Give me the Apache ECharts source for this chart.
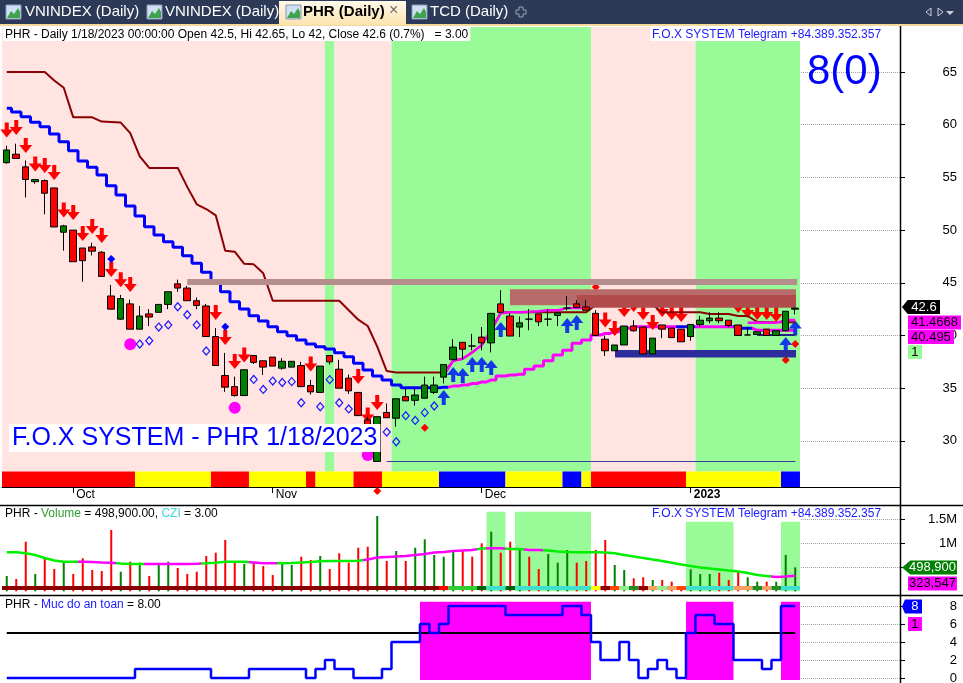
<!DOCTYPE html>
<html><head><meta charset="utf-8">
<script src="https://cdn.jsdelivr.net/npm/echarts@6/dist/echarts.min.js"></script>
<style>html,body{margin:0;padding:0;background:#fff}#c{width:963px;height:683px}</style>
</head><body><div id="c"></div>
<script>
// ---------------- DATA ----------------
const dates = ['9/22','9/23','9/26','9/27','9/28','9/29','9/30',
'10/3','10/4','10/5','10/6','10/7','10/10','10/11','10/12','10/13','10/14','10/17','10/18','10/19','10/20','10/21','10/24','10/25','10/26','10/27','10/28','10/31',
'11/1','11/2','11/3','11/4','11/7','11/8','11/9','11/10','11/11','11/14','11/15','11/16','11/17','11/18','11/21','11/22','11/23','11/24','11/25','11/28','11/29','11/30',
'12/1','12/2','12/5','12/6','12/7','12/8','12/9','12/12','12/13','12/14','12/15','12/16','12/19','12/20','12/21','12/22','12/23','12/26','12/27','12/28','12/29','12/30',
'1/3','1/4','1/5','1/6','1/9','1/10','1/11','1/12','1/13','1/16','1/17','1/18'];
const tickDates = ['10/3','11/1','12/1','1/3'];
const tickLabels = ['Oct','Nov','Dec','2023'];

const open = [56.4,57.2,56.0,54.6,54.7,54.0,49.8,50.0,48.3,48.4,
47.9,43.75,41.55,43.0,40.6,42.05,42.2,42.95,44.9,44.5,
43.3,42.8,39.9,36.2,35.15,34.3,38.1,37.6,37.95,36.9,
37.0,37.15,35.25,34.6,38.1,36.8,35.95,34.6,32.0,28.05,
32.7,32.15,34.2,33.85,34.05,34.6,36.05,37.7,39.35,39.0,
39.85,39.3,43.0,41.85,40.8,41.55,42.05,41.55,41.9,42.6,
43.0,42.7,42.1,39.65,38.55,39.1,40.9,40.8,38.25,41.0,
40.7,40.6,39.9,41.05,41.4,41.65,41.45,41.0,40.05,40.1,
40.6,40.0,40.45,42.5];
const high = [58.0,58.2,56.6,54.8,54.8,54.0,50.5,50.0,48.3,48.8,
48.0,44.8,43.85,43.4,42.8,42.5,42.95,44.15,45.3,44.7,
43.6,43.0,40.7,38.35,36.1,36.75,38.1,37.6,37.95,37.85,
37.55,37.5,35.8,37.1,38.1,37.7,36.3,34.6,32.3,32.3,
33.55,34.0,35.0,35.0,36.1,36.1,37.25,39.65,39.35,40.15,
40.8,42.1,44.3,42.1,41.8,42.5,42.05,42.5,42.15,43.75,
43.35,43.35,42.4,40.0,39.1,40.9,41.45,40.8,39.75,41.0,
40.7,40.6,41.05,41.85,42.2,42.2,41.45,41.0,40.8,40.35,
40.6,40.45,42.3,42.65];
const low = [56.3,56.8,53.1,54.4,51.5,50.3,48.05,47.0,45.1,47.6,
45.6,42.5,41.5,40.6,40.6,40.9,42.2,42.5,44.15,43.3,
42.5,39.9,37.15,34.65,34.2,34.3,37.3,36.25,37.1,36.75,
37.0,35.1,34.4,34.6,37.25,35.0,34.45,32.4,29.8,28.0,
32.2,31.35,33.8,33.35,34.05,34.45,35.45,37.7,37.7,38.6,
38.6,38.4,42.2,39.95,39.85,40.5,40.9,40.9,40.9,42.4,
42.65,42.4,40.0,38.05,38.55,39.1,40.35,38.25,38.25,39.75,
39.8,39.4,39.5,40.85,41.15,41.15,40.8,40.0,40.05,40.1,
40.0,40.0,40.45,42.0];
const close = [57.6,56.8,54.8,54.8,53.5,50.3,50.4,47.0,47.1,48.0,
45.6,42.5,43.5,40.6,41.85,41.75,42.95,44.15,44.5,43.3,
42.85,39.9,37.15,35.1,34.3,36.75,37.45,37.0,37.1,37.55,
37.55,35.15,34.65,37.1,37.5,35.0,34.75,32.4,30.0,32.3,
32.2,34.0,33.8,34.35,35.3,35.3,37.25,38.9,38.7,39.0,
39.3,42.1,42.2,39.95,41.2,41.55,41.3,41.55,42.15,42.6,
42.65,42.4,40.0,38.55,39.1,40.9,40.45,38.25,39.75,40.6,
39.8,39.4,41.05,41.45,41.65,41.4,40.95,40.0,40.05,40.35,
40.0,40.45,42.3,42.6];

// trailing lines on the price pane
const maroonLine = [65.0,65.0,65.0,65.0,65.0,64.2,63.5,60.7,60.7,60.7,
60.3,60.25,60.2,59.2,57.0,55.9,55.9,55.9,55.9,54.1,
52.45,52.0,51.4,48.05,47.95,46.8,46.75,45.9,43.3,43.3,
43.3,43.3,43.3,43.3,43.3,43.3,42.4,41.5,40.9,38.94,
36.63,36.5,36.5,36.5,36.5,36.5,36.5,37.6,37.8,38.4,
39.1,40.5,42.2,42.2,42.2,42.2,42.2,42.2,42.2,42.2,
42.2,42.2,42.9,42.9,42.9,42.9,42.9,42.9,42.9,42.2,
42.2,42.2,42.2,42.2,42.04,42.04,42.04,41.85,41.85,41.3,
41.25,41.25,41.25,41.25];
const stopLine = [61.55,61.2,60.76,60.23,59.81,59.12,58.39,57.53,56.56,55.96,
55.23,54.21,53.33,52.29,51.34,50.32,49.53,48.9,48.37,47.57,
46.85,46.0,45.17,44.16,43.21,42.51,41.88,41.38,40.84,40.36,
39.98,39.57,39.19,38.94,38.72,38.37,37.99,37.36,36.73,36.16,
35.78,35.3,35.05,35.05,35.05,35.05,35.1,35.2,35.3,35.45,
35.6,35.78,36.16,36.25,36.32,36.8,37.1,37.6,38.15,38.6,
39.26,39.57,40.05,40.2,40.36,40.68,40.84,40.84,40.84,40.84,
40.84,40.84,40.84,40.84,40.84,40.84,40.84,40.68,40.68,40.495,
40.495,40.495,40.495,40.495];
const upperMA = [null,null,null,null,null,null,null,null,null,null,
null,null,null,null,null,null,null,null,null,null,
null,null,null,null,null,null,null,null,null,null,
null,null,null,null,null,null,null,null,null,null,
null,null,null,null,null,null,36.2,37.6,37.8,38.4,
39.1,40.5,42.1,42.2,42.2,42.25,42.3,42.4,42.4,42.6,
42.6,42.6,null,null,null,null,null,null,null,null,
null,null,null,null,null,null,null,null,41.2,41.2,
41.2,41.2,41.45,41.4668];
const boxLine = [[79,40.05],[80,40.05],[81,40.05],[82,40.05],[83,40.05]];

// signals
const sellSignals = [[0,59.5],[1,59.73],[2,58.03],[3,56.27],[4,56.13],[5,55.46],[6,51.91],[7,51.67],[8,49.68],[9,50.34],[10,49.49],[11,46.26],[12,45.3],[13,44.84],[22,42.18],[23,39.81],[24,37.53],[25,38.15],[32,37.3],[37,36.11],[38,32.46],[39,33.64],[63,41.47],[64,40.66],[65,42.47],[66,42.94],[67,42.18],[68,41.23],[69,42.47],[70,42.18],[71,41.99],[77,42.85],[78,42.37],[79,42.18],[80,42.18],[81,41.99]];
const buySignals = [[46,34.12],[47,36.3],[48,36.2],[49,37.25],[50,37.25],[51,36.96],[52,40.57],[59,40.95],[60,41.23],[82,39.15],[83,40.71]];
const sarDots = [[14,39.19],[15,39.5],[16,40.8],[17,41.0],[18,42.73],[19,41.97],[20,41.0],[21,38.53],[26,35.83],[27,34.88],[28,35.68],[29,35.54],[30,35.62],[31,33.62],[33,33.24],[34,35.81],[35,33.62],[36,33.03],[40,30.84],[41,29.92],[42,32.39],[43,31.94],[44,32.68],[45,33.31]];
const blueDots = [[11,47.26],[23,40.84]];
const redDots = [[44,31.25],[62,44.6],[82,37.68],[83,39.19]];
const magentaDots = [[13,39.17],[24,33.15],[38,28.66]];
const dateRowMarks = [[39,0.78]];

// zones
const resistanceLevel = {from:19, to:83.2, value:45.08};
const zoneA = {from:52.97, to:83.08, top:44.4, bottom:42.87};
const zoneB = {from:60.03, to:83.08, top:43.84, bottom:42.64};
const supportZone = {from:64.03, to:83.08, top:38.62, bottom:37.91};
const lowestLow = {from:40, to:83, value:28.03};

// background / state strips (one code per bar)
const bgCode    = 'PPPPPPPPPPPPPPPPPPPPPPPPPPPPPPPPPPGPPPPPPGGGGGGGGGGGGGGGGGGGGGPPPPPPPPPPPGGGGGGGGGGG';
const stripCode = 'RRRRRRRRRRRRRRYYYYYYYYRRRRYYYYYYRYYYYRRRYYYYYYBBBBBBBYYYYYYBBYRRRRRRRRRRYYYYYYYYYYBB';

// volume pane
const volume = [319000,256000,1033000,360000,688000,465000,631000,360000,688000,444000,
423000,1277000,408000,617000,596000,319000,569000,617000,485000,360000,
408000,735000,804000,1069000,596000,569000,596000,527000,340000,596000,
548000,721000,652000,735000,465000,792000,596000,908000,929000,1569000,
631000,840000,631000,908000,1083000,756000,721000,860000,840000,721000,
1000000,1242000,804000,1033000,896000,721000,465000,777000,596000,860000,
596000,631000,860000,1069000,548000,444000,271000,292000,235000,235000,
200000,83000,458000,360000,360000,388000,235000,408000,292000,200000,
200000,200000,756000,498900];
const volDir = 'GRRGRRGRRRRRGRGRGGRRRRRRRGRRRGGRRGRRRRRGRGRGGGGGRRRGRRGRRGGGRRRRGGRRGRRRGGGRRRGGRGGG';
const volMA = [812000,812000,792000,756000,694000,642000,617000,617000,617000,610000,
600000,596000,579000,569000,569000,569000,569000,569000,569000,569000,
575000,583000,596000,617000,617000,617000,600000,583000,583000,583000,
590000,600000,610000,625000,631000,631000,631000,638000,662000,704000,
715000,725000,735000,756000,777000,808000,819000,840000,850000,860000,
892000,896000,896000,881000,881000,860000,860000,850000,829000,819000,
812000,812000,812000,808000,792000,756000,725000,694000,662000,631000,
596000,558000,527000,496000,475000,454000,433000,413000,381000,340000,
319000,298000,308000,323547];
const volStripCode = 'DDDDDDDDDDDDDDDDDDDDDDDDDDDDDDDDDDDDDDDDDDDDDDrLLLgTTgTTTTTTTTYDOlGDSlSOTTTTTSSGSGTT';
const volBandHeight = [0,0,0,0,0,0,0,0,0,0, 0,0,0,0,0,0,0,0,0,0, 0,0,0,0,0,0,0,0,0,0,
0,0,0,0,0,0,0,0,0,0, 0,0,0,0,0,0,0,0,0,0, 0,1658000,1658000,0,1658000,1658000,1658000,1658000,1658000,1658000,
1658000,1658000,0,0,0,0,0,0,0,0, 0,0,1450000,1450000,1450000,1450000,1450000,0,0,0, 0,0,1450000,1450000];

// "Muc do an toan" pane
const safety = [0,0,0,0,0,0,0,0,0,0, 0,0,0,0,1,1,1,1,1,1, 1,1,0,0,0,0,1,1,1,1,
1,1,0,1,2,1,1,0,0,0, 1,4,4,4,6,5,6,8,8,8, 8,8,8,7,7,7,7,7,7,8,
8,7,4,2,2,4,2,0,1,2, 1,0,5,7,7,6,6,2,2,2, 1,2,8,8];
const safetyBand = '000000000000000000000000000000000000000000001111111111111111110000000000111110000011';
const safetyThreshold = 5;

const lastValues = {close:'42.6', upper:'41.4668', stop:'40.495', count:'1', vol:'498,900', volMA:'323,547', safety:'8', safetyCount:'1'};

// ---------------- BUILD ----------------
const FONT = '"Liberation Sans", Arial, sans-serif';
const X_MIN = -0.5, X_MAX = 94.03;
const P_MIN = 25.626, P_MAX = 69.27, STRIP_TOP = 27.1;
const V_MAX = 1777083;
const I_MIN = -0.556, I_MAX = 9.0;
const PINK = '#ffe4e1', LGREEN = '#98fb98';
const stripColors = {R:'#ff0000', Y:'#ffff00', B:'#0000ff'};
const volStripColors = {D:'#8b0000', r:'#ff0000', L:'#32cd32', g:'#006400', T:'#40e0d0', Y:'#ffff00', O:'#ff4500', l:'#90ee90', G:'#228b22', S:'#f4a460'};
const N = dates.length;
const idx = dates.map((d,i)=>i);
const tickIdx = tickDates.map(d => dates.indexOf(d));

function runs(arr){ const out=[]; let s=0; for(let i=1;i<=arr.length;i++){ if(i===arr.length || arr[i]!==arr[s]){ out.push({s:s,e:i-1,k:arr[s]}); s=i; } } return out; }

const candleData = idx.map(i => [i, open[i], close[i], low[i], high[i]]);
const pair = arr => idx.map(i => [i, arr[i]]);

const priceBgAreas = runs(bgCode.split('')).map(r => [
  {xAxis:r.s-0.5, yAxis:STRIP_TOP, itemStyle:{color:r.k==='G'?LGREEN:PINK, opacity:1}},
  {xAxis:r.e+0.5, yAxis:P_MAX}]);
const stripAreas = runs(stripCode.split('')).map(r => [
  {xAxis:r.s-0.5, yAxis:P_MIN, itemStyle:{color:stripColors[r.k], opacity:1}},
  {xAxis:r.e+0.5, yAxis:STRIP_TOP}]);
const zoneAreas = [
  [{xAxis:zoneA.from, yAxis:zoneA.top, itemStyle:{color:'#b86b6b', opacity:1}}, {xAxis:zoneA.to, yAxis:zoneA.bottom}],
  [{xAxis:zoneB.from, yAxis:zoneB.top, itemStyle:{color:'#b04c4c', opacity:1}}, {xAxis:zoneB.to, yAxis:zoneB.bottom}],
  [{xAxis:supportZone.from, yAxis:supportZone.top, itemStyle:{color:'#2c2c9c', opacity:1}}, {xAxis:supportZone.to, yAxis:supportZone.bottom}]
];
const volBandAreas = runs(volBandHeight).filter(r => r.k>0).map(r => [
  {xAxis:r.s-0.5, yAxis:0, itemStyle:{color:LGREEN, opacity:1}}, {xAxis:r.e+0.5, yAxis:r.k}]);
const volStripAreas = runs(volStripCode.split('')).map(r => [
  {xAxis:r.s-0.5, yAxis:25000, itemStyle:{color:volStripColors[r.k], opacity:1}}, {xAxis:r.e+0.5, yAxis:110000}]);
const safetyAreas = runs(safetyBand.split('')).filter(r => r.k==='1').map(r => [
  {xAxis:r.s-0.5, yAxis:-0.22, itemStyle:{color:'#ff00ff', opacity:1}}, {xAxis:r.e+0.5, yAxis:8.48}]);

const gridDots = (vals) => vals.map(v => [{coord:[83.6, v]}, {coord:[X_MAX, v]}]);
const dotStyle = {type:'dotted', color:'#a0a0a0', width:1};

const ARROW_DOWN = 'path://M4.5,0L8.5,0L8.5,7L13,7L6.5,15L0,7L4.5,7Z';
const ARROW_UP = 'path://M6.5,0L13,8L8.5,8L8.5,15L4.5,15L4.5,8L0,8Z';
const TAG = 'path://M0,7L6,0L40,0L40,14L6,14Z';
const I83X = 2 + (83 - X_MIN) * 9.5;
function box(coord, text, bg, fg, x0, x1, yc, yActual, arrow){
  return {coord:coord, value:text, symbol: arrow?TAG:'rect', symbolSize:[x1-x0, 14],
    symbolOffset:[(x0+x1)/2 - I83X, yc - yActual], itemStyle:{color:bg},
    label:{show:true, position:'inside', formatter:text, color:fg, fontSize:13, fontFamily:FONT, offset: arrow?[3,0]:[0,0]}};
}
const pY = v => 27 + (P_MAX - v) * 460 / (P_MAX - P_MIN);
const vY = v => 506 + (V_MAX - v) * 85.3 / V_MAX;
const iY = v => 597 + (I_MAX - v) * 86 / (I_MAX - I_MIN);

const lineBase = {type:'line', symbol:'none', animation:false, silent:true, connectNulls:false};
const noLabel = {show:false};
const yLine = {show:false, onZero:false};

const option = {
  animation:false,
  backgroundColor:'#ffffff',
  textStyle:{fontFamily:FONT},
  grid:[
    {left:2, right:63, top:27, height:460, outerBoundsMode:'none'},
    {left:2, right:63, top:487, height:18, outerBoundsMode:'none'},
    {left:2, right:63, top:506, height:85.3, outerBoundsMode:'none'},
    {left:2, right:63, top:597, height:86, outerBoundsMode:'none'}
  ],
  xAxis:[
    {gridIndex:0, type:'value', min:X_MIN, max:X_MAX, show:false, axisLine:{onZero:false}},
    {gridIndex:1, type:'value', min:X_MIN, max:X_MAX, position:'top',
      axisLine:{show:true, onZero:false, lineStyle:{color:'#000', width:1}},
      axisTick:{show:true, inside:true, length:6, customValues:tickIdx, lineStyle:{color:'#000'}},
      axisLabel:{show:true, inside:true, customValues:tickIdx, margin:2, align:'left', padding:[0,0,0,3],
        fontSize:12, color:'#000', fontFamily:FONT,
        formatter: v => { const k = tickIdx.indexOf(Math.round(v)); if (k<0) return ''; return k===3 ? '{b|'+tickLabels[k]+'}' : tickLabels[k]; },
        rich:{b:{fontWeight:'bold', fontSize:12, color:'#000', fontFamily:FONT}}},
      splitLine:{show:false}},
    {gridIndex:2, type:'value', min:X_MIN, max:X_MAX, show:false, axisLine:{onZero:false}},
    {gridIndex:3, type:'value', min:X_MIN, max:X_MAX, show:false, axisLine:{onZero:false}}
  ],
  yAxis:[
    {gridIndex:0, type:'value', position:'right', min:P_MIN, max:P_MAX, axisLine:yLine,
      axisTick:{show:true, length:5, customValues:[30,35,40,45,50,55,60,65], lineStyle:{color:'#000'}},
      axisLabel:{show:true, customValues:[30,35,40,45,50,55,60,65], align:'right', margin:57, fontSize:13, color:'#000', fontFamily:FONT},
      splitLine:{show:false}},
    {gridIndex:1, type:'value', min:0, max:1, show:false, axisLine:yLine},
    {gridIndex:2, type:'value', position:'right', min:0, max:V_MAX, axisLine:yLine,
      axisTick:{show:true, length:5, customValues:[500000,1000000,1500000], lineStyle:{color:'#000'}},
      axisLabel:{show:true, customValues:[1000000,1500000], align:'right', margin:57, fontSize:13, color:'#000', fontFamily:FONT,
        formatter: v => (v/1e6) + 'M'},
      splitLine:{show:false}},
    {gridIndex:3, type:'value', position:'right', min:I_MIN, max:I_MAX, axisLine:yLine,
      axisTick:{show:true, length:5, customValues:[0,2,4,6,8], lineStyle:{color:'#000'}},
      axisLabel:{show:true, customValues:[0,2,4,6,8], align:'right', margin:57, fontSize:13, color:'#000', fontFamily:FONT},
      splitLine:{show:false}}
  ],
  visualMap:[
    {type:'piecewise', show:false, seriesIndex:1, dimension:0,
      pieces:[{lt:46.5, color:'#0000ff'},{gte:46.5, lt:70.5, color:'#ff00ff'},{gte:70.5, lt:72.5, color:'#0000ff'},{gte:72.5, lt:76.5, color:'#ff00ff'},{gte:76.5, lt:78.5, color:'#0000ff'},{gte:78.5, color:'#ff00ff'}]},
    {type:'piecewise', show:false, seriesIndex:13, dimension:0,
      pieces:[{lt:7.5, color:'#00ee00'},{gte:7.5, lt:11.5, color:'#ff00ff'},{gte:11.5, lt:14.5, color:'#00ee00'},{gte:14.5, lt:20.5, color:'#ff00ff'},{gte:20.5, lt:25.5, color:'#00ee00'},{gte:25.5, lt:28.5, color:'#ff00ff'},{gte:28.5, lt:37.5, color:'#00ee00'},{gte:37.5, lt:49.5, color:'#ff00ff'},{gte:49.5, lt:50.5, color:'#00ee00'},{gte:50.5, lt:52.5, color:'#ff00ff'},{gte:52.5, lt:54.5, color:'#00ee00'},{gte:54.5, lt:56.5, color:'#ff00ff'},{gte:56.5, lt:80.5, color:'#00ee00'},{gte:80.5, color:'#ff00ff'}]}
  ],
  title:[
    {text:'PHR - Daily 1/18/2023 00:00:00 Open 42.5, Hi 42.65, Lo 42, Close 42.6 (0.7%)   = 3.00', left:3, top:27, padding:[1,2,0,2], backgroundColor:'#fff',
      textStyle:{fontSize:12, fontWeight:'normal', color:'#000', fontFamily:FONT, lineHeight:13}},
    {text:'F.O.X SYSTEM Telegram +84.389.352.357', left:650, top:27, padding:[1,2,0,2], backgroundColor:'#fff',
      textStyle:{fontSize:12, fontWeight:'normal', color:'#1a1aff', fontFamily:FONT, lineHeight:13}},
    {text:'8(0)', left:807, top:47, padding:0,
      textStyle:{fontSize:42, fontWeight:'normal', color:'#0000ff', fontFamily:FONT, lineHeight:50}},
    {text:'F.O.X SYSTEM - PHR 1/18/2023', left:9, top:424, padding:[1,3,1,3], backgroundColor:'#fff',
      textStyle:{fontSize:25, fontWeight:'normal', color:'#0000ff', fontFamily:FONT, lineHeight:26}},
    {text:'PHR - {g|Volume} = 498,900.00, {c|CZI} = 3.00', left:3, top:507, padding:[0,2],
      textStyle:{fontSize:12, fontWeight:'normal', color:'#000', fontFamily:FONT, lineHeight:14,
        rich:{g:{color:'#2e9e2e', fontSize:12, fontFamily:FONT}, c:{color:'#3fd6d6', fontSize:12, fontFamily:FONT}}}},
    {text:'F.O.X SYSTEM Telegram +84.389.352.357', left:650, top:507, padding:[0,2],
      textStyle:{fontSize:12, fontWeight:'normal', color:'#1a1aff', fontFamily:FONT, lineHeight:14}},
    {text:'PHR - {b|Muc do an toan} = 8.00', left:3, top:598, padding:[0,2],
      textStyle:{fontSize:12, fontWeight:'normal', color:'#000', fontFamily:FONT, lineHeight:14,
        rich:{b:{color:'#1a1aff', fontSize:12, fontFamily:FONT}}}}
  ],
  series:[
    // 0 candles
    {type:'candlestick', xAxisIndex:0, yAxisIndex:0, z:5, barWidth:7, silent:true,
      encode:{x:0, y:[1,2,3,4]}, data:candleData,
      itemStyle:{color:'#008000', color0:'#ff0000', borderColor:'#000', borderColor0:'#000', borderColorDoji:'#000', borderWidth:1},
      markArea:{silent:true, z:1, label:noLabel, data: priceBgAreas.concat(stripAreas)},
      markPoint:{silent:true, z:6, data:[box([83, 42.6], lastValues.close, '#000', '#fff', 902, 940, 307, pY(42.6), true)]}},
    // 1 stop line (blue / magenta)
    Object.assign({}, lineBase, {xAxisIndex:0, yAxisIndex:0, z:2, step:'middle', data:pair(stopLine), lineStyle:{width:3},
      markLine:{silent:true, symbol:'none', z:1, label:noLabel, lineStyle:dotStyle, data:gridDots([30,35,40,45,50,55,60,65])},
      markPoint:{silent:true, z:6, data:[
        box([83, 40.495], lastValues.stop, '#ff00ff', '#000', 908, 954, 337, pY(40.495), false),
        box([83, 40.495], lastValues.count, '#98fb98', '#000', 908, 922, 352, pY(40.495), false)]}}),
    // 2 maroon
    Object.assign({}, lineBase, {xAxisIndex:0, yAxisIndex:0, z:2.5, data:pair(maroonLine), lineStyle:{width:2, color:'#8b0000'}, itemStyle:{color:'#8b0000'},
      markArea:{silent:true, z:3, label:noLabel, data:zoneAreas},
      markLine:{silent:true, symbol:'none', z:3, label:noLabel, data:[
        [{coord:[resistanceLevel.from, resistanceLevel.value], lineStyle:{color:'#b58d8d', width:6, type:'solid'}}, {coord:[resistanceLevel.to, resistanceLevel.value]}],
        [{coord:[lowestLow.from, lowestLow.value], lineStyle:{color:'#3b3b9b', width:1, type:'solid'}}, {coord:[lowestLow.to, lowestLow.value]}]
      ]}}),
    // 3 upper magenta
    Object.assign({}, lineBase, {xAxisIndex:0, yAxisIndex:0, z:4, data:pair(upperMA), lineStyle:{width:2.5, color:'#ff00ff'}, itemStyle:{color:'#ff00ff'},
      markPoint:{silent:true, z:6, data:[box([83, 41.4668], lastValues.upper, '#ff00ff', '#000', 908, 961, 322.5, pY(41.4668), false)]}}),
    // 4 sell arrows
    {type:'scatter', xAxisIndex:0, yAxisIndex:0, z:2, silent:true, symbol:ARROW_DOWN, symbolSize:[13,15], data:sellSignals, itemStyle:{color:'#ff0000', opacity:1}},
    // 5 buy arrows
    {type:'scatter', xAxisIndex:0, yAxisIndex:0, z:2, silent:true, symbol:ARROW_UP, symbolSize:[13,15], data:buySignals, itemStyle:{color:'#1438e8', opacity:1}},
    // 6 hollow diamonds
    {type:'scatter', xAxisIndex:0, yAxisIndex:0, z:2, silent:true, symbol:'diamond', symbolSize:[7,8], data:sarDots, itemStyle:{color:'rgba(0,0,0,0)', borderColor:'#1a1aff', borderWidth:1.2, opacity:1}},
    // 7 blue dots
    {type:'scatter', xAxisIndex:0, yAxisIndex:0, z:2, silent:true, symbol:'diamond', symbolSize:[8,8], data:blueDots, itemStyle:{color:'#0000ff', opacity:1}},
    // 8 red dots
    {type:'scatter', xAxisIndex:0, yAxisIndex:0, z:2, silent:true, symbol:'diamond', symbolSize:[8,8], data:redDots, itemStyle:{color:'#ff0000', opacity:1}},
    // 9 magenta dots
    {type:'scatter', xAxisIndex:0, yAxisIndex:0, z:2, silent:true, symbol:'circle', symbolSize:12, data:magentaDots, itemStyle:{color:'#ff00ff', opacity:1}},
    // 10 navy box line
    Object.assign({}, lineBase, {xAxisIndex:0, yAxisIndex:0, z:4, data:boxLine, lineStyle:{width:2, color:'#23238a'}}),
    // 11 date row marks
    {type:'scatter', xAxisIndex:1, yAxisIndex:1, silent:true, symbol:'diamond', symbolSize:[8,8], data:dateRowMarks, itemStyle:{color:'#ff0000', opacity:1}},
    // 12 volume bars
    {type:'bar', xAxisIndex:2, yAxisIndex:2, z:2, silent:true, barWidth:2, data:pair(volume),
      itemStyle:{color: p => volDir[p.dataIndex]==='G' ? '#008000' : '#ff0000'},
      markArea:{silent:true, z:1, label:noLabel, data:volBandAreas},
      markLine:{silent:true, symbol:'none', z:1, label:noLabel, lineStyle:dotStyle, data:gridDots([500000,1000000,1500000])},
      markPoint:{silent:true, z:6, data:[box([83, 498900], lastValues.vol, '#008000', '#fff', 902, 957, 567.5, vY(498900), true)]}},
    // 13 volume MA
    Object.assign({}, lineBase, {xAxisIndex:2, yAxisIndex:2, z:3, data:pair(volMA), lineStyle:{width:2.5},
      markArea:{silent:true, z:4, label:noLabel, data:volStripAreas},
      markPoint:{silent:true, z:6, data:[box([83, 323547], lastValues.volMA, '#ff00ff', '#000', 908, 957, 583.5, vY(323547), false)]}}),
    // 14 safety line
    Object.assign({}, lineBase, {xAxisIndex:3, yAxisIndex:3, z:3, step:'middle', data:pair(safety), lineStyle:{width:2.5, color:'#0000ff'}, itemStyle:{color:'#0000ff'},
      markArea:{silent:true, z:1, label:noLabel, data:safetyAreas},
      markLine:{silent:true, symbol:'none', z:2, label:noLabel, data:
        [[{coord:[0, safetyThreshold], lineStyle:{color:'#000', width:2, type:'solid'}}, {coord:[N-1, safetyThreshold]}]]
        .concat(gridDots([0,2,4,6,8]).map(d => [Object.assign({lineStyle:dotStyle}, d[0]), d[1]]))},
      markPoint:{silent:true, z:6, data:[
        box([83, 8], lastValues.safety, '#0000ff', '#fff', 902, 922, 606.5, iY(8), true),
        box([83, 8], lastValues.safetyCount, '#ff00ff', '#000', 908, 922, 624, iY(8), false)]}})
  ],
  graphic:[
    // tab bar
    {type:'rect', z:20, shape:{x:0,y:0,width:963,height:25}, style:{fill:'#2d3a57'}},
    {type:'rect', z:20, shape:{x:0,y:24,width:963,height:2}, style:{fill:'#f4d99a'}},
    {type:'rect', z:21, shape:{x:279,y:1,width:127,height:24}, style:{fill:{type:'linear',x:0,y:0,x2:0,y2:1,colorStops:[{offset:0,color:'#fffaea'},{offset:1,color:'#fbe3ad'}]}}},
    ...[6,147,286,412].map(x => ({type:'group', z:22, children:[
      {type:'rect', z:22, shape:{x:x,y:5,width:15,height:14}, style:{fill:'#cfe0f5', stroke:'#8797b8', lineWidth:1}},
      {type:'polygon', z:23, shape:{points:[[x+1,18],[x+5,11],[x+8,14],[x+12,8],[x+14,12],[x+14,18]]}, style:{fill:'#3fa34d'}}
    ]})),
    {type:'text', z:22, style:{text:'VNINDEX (Daily)', x:25, y:4, fill:'#ffffff', font:'15px '+FONT}},
    {type:'text', z:22, style:{text:'VNINDEX (Daily)', x:165, y:4, fill:'#ffffff', font:'15px '+FONT}},
    {type:'text', z:22, style:{text:'PHR (Daily)', x:303, y:4, fill:'#000000', font:'bold 15px '+FONT}},
    {type:'text', z:22, style:{text:'×', x:389, y:3, fill:'#6d6d6d', font:'16px '+FONT}},
    {type:'text', z:22, style:{text:'TCD (Daily)', x:430, y:4, fill:'#ffffff', font:'15px '+FONT}},
    {type:'polygon', z:22, shape:{points:[[519,7],[523,7],[523,10],[526,10],[526,14],[523,14],[523,17],[519,17],[519,14],[516,14],[516,10],[519,10]]}, style:{fill:'none', stroke:'#9aa3b8', lineWidth:1}},
    {type:'polygon', z:22, shape:{points:[[931,8],[926,12],[931,16]]}, style:{fill:'none', stroke:'#c9cfdb', lineWidth:1}},
    {type:'polygon', z:22, shape:{points:[[938,8],[943,12],[938,16]]}, style:{fill:'none', stroke:'#c9cfdb', lineWidth:1}},
    {type:'polygon', z:22, shape:{points:[[946,11],[954,11],[950,15]]}, style:{fill:'#c9cfdb'}},
    // right axis line and pane separators
    {type:'line', z:20, shape:{x1:900.5,y1:26,x2:900.5,y2:683}, style:{stroke:'#000', lineWidth:1.5}},
    {type:'line', z:20, shape:{x1:0,y1:505.5,x2:963,y2:505.5}, style:{stroke:'#000', lineWidth:1.5}},
    {type:'line', z:20, shape:{x1:0,y1:595.5,x2:963,y2:595.5}, style:{stroke:'#000', lineWidth:1.5}}
  ]
};
const chart = echarts.init(document.getElementById('c'), null, {renderer:'canvas', width:963, height:683});
chart.setOption(option);
</script>
</body></html>
